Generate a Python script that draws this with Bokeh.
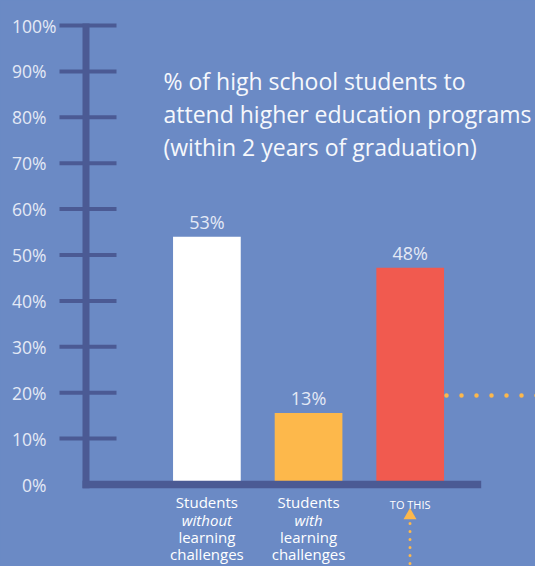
from bokeh.plotting import figure
from bokeh.embed import file_html
from bokeh.resources import INLINE
from bokeh.core.properties import value
from bokeh.models import ColumnDataSource, GlobalInlineStyleSheet

# ---------------- data ----------------
values = [54.0, 15.6, 47.2]
value_labels = ["53%", "13%", "48%"]
bar_colors = ["#ffffff", "#fdb84b", "#f15a4f"]
cat_line1 = ["Students", "Students"]
cat_line2 = ["without", "with"]
cat_line3 = ["learning", "learning"]
cat_line4 = ["challenges", "challenges"]
third_label = "TO THIS"
tick_values = [10, 20, 30, 40, 50, 60, 70, 80, 90, 100]
label_values = [0, 10, 20, 30, 40, 50, 60, 70, 80, 90, 100]
tick_labels = ["0%", "10%", "20%", "30%", "40%", "50%", "60%", "70%", "80%", "90%", "100%"]
title_lines = ["% of high school students to",
               "attend higher education programs",
               "(within 2 years of graduation)"]

# ---------------- style ----------------
BG = "#6b8ac5"
AXIS = "#4b5a94"
TXT = "#e4e9f5"
ORANGE = "#fdb84b"
FONT = value("Open Sans")
W, H = 535, 566

# pixel helpers (layout only)
UX = 101.65          # px per category step
CX0 = 206.4          # px of first category centre
UY = 4.59            # px per percent
Y0 = 484.0           # px of 0%


def X(px):
    return (px - CX0) / UX


def Y(px):
    return (Y0 - px) / UY


p = figure(width=W, height=H, output_backend="svg", toolbar_location=None,
           x_range=(X(0), X(W)), y_range=(Y(H), Y(0)),
           x_axis_location=None, y_axis_location=None,
           min_border=0, background_fill_color=BG, border_fill_color=BG)
p.grid.visible = False
p.outline_line_color = None
p.stylesheets = [GlobalInlineStyleSheet(
    css=f"html,body{{margin:0;padding:0;overflow:hidden;background:{BG};}}")]

xs = list(range(len(values)))

# bars
src = ColumnDataSource(dict(x=xs, top=values, color=bar_colors, lab=value_labels))
p.vbar(x="x", top="top", bottom=0, width=0.666, fill_color="color", line_color=None, source=src)

# value labels
p.text(x="x", y="top", text="lab", source=src, text_align="center", text_baseline="middle",
       y_offset=-15, text_font=FONT, text_font_size="18px", text_color=TXT)

# axis: ticks, vertical and horizontal lines
p.segment(x0=[X(59)] * len(tick_values), x1=[X(116)] * len(tick_values),
          y0=tick_values, y1=tick_values, line_color=AXIS, line_width=4, line_cap="butt")
p.segment(x0=[X(85.5)], x1=[X(85.5)], y0=[Y(23)], y1=[Y(487.7)],
          line_color=AXIS, line_width=7, line_cap="butt")
p.segment(x0=[X(82)], x1=[X(480.7)], y0=[0], y1=[0],
          line_color=AXIS, line_width=7.5, line_cap="butt")

# tick labels
lab_x = [X(46)] * (len(label_values) - 1) + [X(56)]
p.text(x=lab_x, y=label_values, text=tick_labels, text_align="right", text_baseline="middle",
       text_font=FONT, text_font_size="17.5px", text_color=TXT)

# title
for i, line in enumerate(title_lines):
    p.text(x=[X(163)], y=[Y(80.5 + 33 * i)], text=[line], text_align="left",
           text_baseline="middle", text_font=FONT, text_font_size="23px",
           text_color="#f6f8fc")

# category labels
cx = xs[:2]
base = [501.7, 519.1, 536.5, 553.9]
for lines, b, style in [(cat_line1, base[0], "normal"), (cat_line2, base[1], "italic"),
                        (cat_line3, base[2], "normal"), (cat_line4, base[3], "normal")]:
    p.text(x=cx, y=[Y(b)] * 2, text=lines, text_align="center", text_baseline="middle",
           text_font=FONT, text_font_size="15px", text_font_style=style, text_color="#ffffff")

p.text(x=[xs[2]], y=[Y(503.5)], text=[third_label], text_align="center", text_baseline="middle",
       text_font=FONT, text_font_size="11px", text_color="#ffffff")

# arrow and dotted connectors
p.scatter(x=[X(409.5)], y=[Y(515)], marker="triangle", size=13, fill_color=ORANGE,
          line_color=None)
p.line(x=[X(409.5), X(409.5)], y=[Y(523), Y(575)], line_color=ORANGE, line_width=3,
       line_dash="0 8", line_cap="round")
p.line(x=[X(446), X(545)], y=[Y(395), Y(395)], line_color=ORANGE, line_width=4.5,
       line_dash="0 15", line_cap="round")

open("out.html", "w").write(file_html(p, INLINE))
